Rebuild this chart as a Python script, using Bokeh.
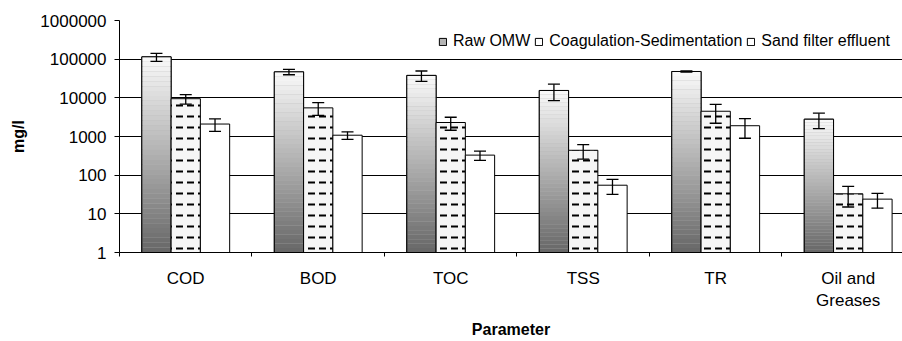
import numpy as np
from bokeh.plotting import figure
from bokeh.models import (ColumnDataSource, Range1d, FixedTicker, Whisker, TeeHead,
                          Legend, LegendItem)
from bokeh.embed import file_html
from bokeh.resources import INLINE

# ---- data ----
categories = ["COD", "BOD", "TOC", "TSS", "TR", "Oil and\nGreases"]
series_names = ["Raw OMW", "Coagulation-Sedimentation", "Sand filter effluent"]
raw_omw = [115000, 47000, 38000, 15500, 48000, 2800]
raw_err = [27000, 7500, 11500, 7000, 1500, 1200]
coag_sed = [9500, 5500, 2300, 440, 4500, 33]
coag_err = [2600, 2000, 850, 180, 2300, 18]
sand_filter = [2100, 1080, 330, 55, 1900, 24]
sand_err = [750, 240, 90, 23, 1000, 10]
y_ticks = [1, 10, 100, 1000, 10000, 100000, 1000000]
y_tick_labels = ["1", "10", "100", "1000", "10000", "100000", "1000000"]

FONT = "Liberation Sans"
n = len(categories)
xc = np.arange(n) + 0.5
bw = 0.221
offsets = [-bw, 0.0, bw]

p = figure(width=902, height=341, y_axis_type="log",
           x_range=Range1d(0, 5.91), y_range=Range1d(1, 1000000),
           output_backend="svg", toolbar_location=None,
           min_border_left=119, min_border_right=0, min_border_top=20,
           min_border_bottom=0)
p.outline_line_color = None
p.background_fill_color = "white"

# axes
p.yaxis.ticker = FixedTicker(ticks=y_ticks)
p.yaxis.major_label_overrides = {t: l for t, l in zip(y_ticks, y_tick_labels)}
p.yaxis.minor_tick_line_color = None
p.yaxis.major_tick_out = 5
p.yaxis.major_tick_in = 0
p.yaxis.axis_line_color = "black"
p.yaxis.major_tick_line_color = "black"
p.yaxis.major_label_text_font = FONT
p.yaxis.major_label_text_font_size = "17px"
p.yaxis.major_label_text_color = "black"
p.yaxis.major_label_standoff = 8
p.yaxis.axis_label = "mg/l"
p.yaxis.axis_label_text_font = FONT
p.yaxis.axis_label_text_font_style = "bold"
p.yaxis.axis_label_text_font_size = "16px"
p.yaxis.axis_label_text_color = "black"
p.yaxis.axis_label_standoff = 10

p.xaxis.ticker = FixedTicker(ticks=list(xc), minor_ticks=list(range(n + 1)))
p.xaxis.major_label_overrides = {float(x): c for x, c in zip(xc, categories)}
p.xaxis.major_tick_out = 0
p.xaxis.major_tick_in = 0
p.xaxis.minor_tick_out = 4
p.xaxis.minor_tick_in = 0
p.xaxis.minor_tick_line_color = "black"
p.xaxis.axis_line_color = "black"
p.xaxis.major_label_text_font = FONT
p.xaxis.major_label_text_font_size = "17px"
p.xaxis.major_label_text_color = "black"
p.xaxis.major_label_standoff = 12
p.xaxis.axis_label = "Parameter"
p.xaxis.axis_label_text_font = FONT
p.xaxis.axis_label_text_font_style = "bold"
p.xaxis.axis_label_text_font_size = "16px"
p.xaxis.axis_label_text_color = "black"
p.xaxis.axis_label_standoff = 8

p.xgrid.grid_line_color = None
p.ygrid.grid_line_color = "black"
p.ygrid.grid_line_alpha = 1
p.ygrid.grid_line_width = 1

# ---- Raw OMW: gradient bars ----
x_raw = xc + offsets[0]
src_raw = ColumnDataSource(dict(x=x_raw, top=raw_omw))
r_raw_leg = p.vbar(x="x", top="top", bottom=1, width=bw, source=src_raw,
                   fill_color="#b4b4b4", line_color="black", line_width=1)
N = 40
L, R, B, T, C = [], [], [], [], []
for xi, v in zip(x_raw, raw_omw):
    lv = np.log10(v)
    for k in range(N):
        b = 10 ** (lv * k / N)
        t = 10 ** (lv * (k + 1) / N)
        frac = (k + 0.5) / N  # 0 bottom -> 1 top
        g = int(round(0x66 + (0xfa - 0x66) * frac))
        L.append(xi - bw / 2); R.append(xi + bw / 2); B.append(b); T.append(t)
        C.append("#%02x%02x%02x" % (g, g, g))
p.quad(left=L, right=R, bottom=B, top=T, fill_color=C, line_color=None)
p.vbar(x="x", top="top", bottom=1, width=bw, source=src_raw,
       fill_color=None, line_color="black", line_width=1)

# ---- Coagulation-Sedimentation: hatched bars ----
src_coag = ColumnDataSource(dict(x=xc + offsets[1], top=coag_sed))
p.vbar(x="x", top="top", bottom=1, width=bw, source=src_coag,
       fill_color="#f6f6f6", line_color="black", line_width=1,
       hatch_pattern="horizontal_dash", hatch_color="black",
       hatch_scale=11, hatch_weight=2)
r_coag_leg = p.vbar(x="x", top="top", bottom=1, width=bw, source=src_coag,
                    fill_color="white", line_color="black", line_width=1,
                    visible=False)

# ---- Sand filter effluent ----
src_sand = ColumnDataSource(dict(x=xc + offsets[2], top=sand_filter))
r_sand = p.vbar(x="x", top="top", bottom=1, width=bw, source=src_sand,
                fill_color="white", line_color="black", line_width=1)

# ---- error bars ----
for vals, errs, off in [(raw_omw, raw_err, offsets[0]),
                        (coag_sed, coag_err, offsets[1]),
                        (sand_filter, sand_err, offsets[2])]:
    es = ColumnDataSource(dict(x=xc + off,
                               upper=[v + e for v, e in zip(vals, errs)],
                               lower=[v - e for v, e in zip(vals, errs)]))
    w = Whisker(base="x", upper="upper", lower="lower", source=es,
                line_color="black", line_width=1.3, level="annotation",
                upper_head=TeeHead(size=12, line_color="black", line_width=1.3),
                lower_head=TeeHead(size=12, line_color="black", line_width=1.3))
    p.add_layout(w)

legend = Legend(items=[LegendItem(label=series_names[0], renderers=[r_raw_leg]),
                       LegendItem(label=series_names[1], renderers=[r_coag_leg]),
                       LegendItem(label=series_names[2], renderers=[r_sand])],
                orientation="horizontal", location="top_right",
                background_fill_color="white", background_fill_alpha=1,
                border_line_color=None, glyph_width=9, glyph_height=9,
                label_standoff=6, spacing=4, padding=2, margin=12,
                inactive_fill_alpha=0,
                label_text_font=FONT, label_text_font_size="16px",
                label_text_color="black")
p.add_layout(legend)

open("out.html", "w").write(file_html(p, INLINE))
